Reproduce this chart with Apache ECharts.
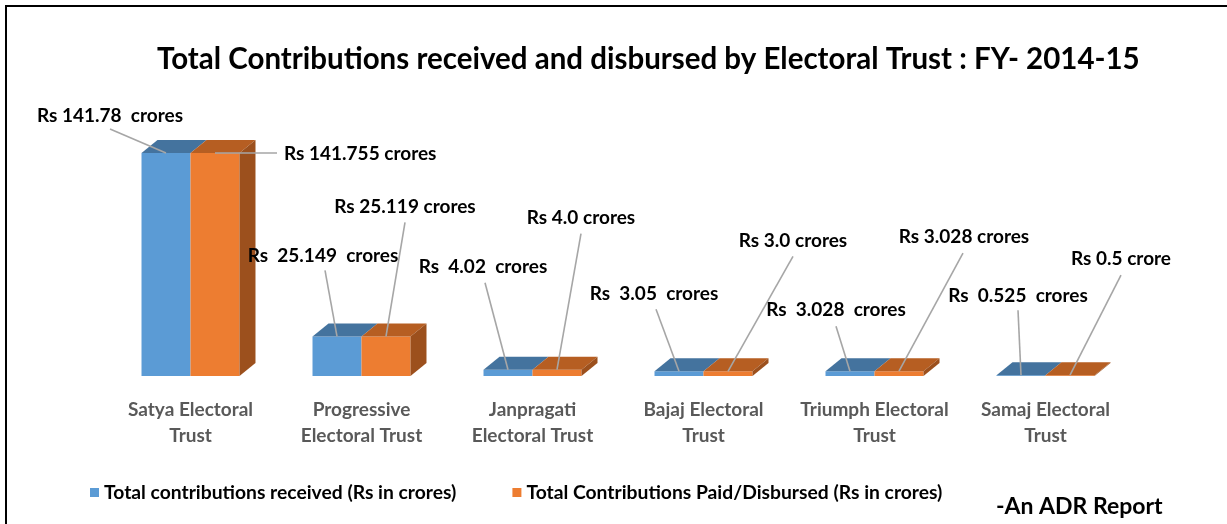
<!DOCTYPE html>
<html><head><meta charset="utf-8">
<script src="https://cdn.jsdelivr.net/npm/echarts@6/dist/echarts.min.js"></script>
<style>html,body{margin:0;padding:0;background:#fff}#c{width:1227px;height:524px}</style>
</head><body><div id="c"></div>
<script>
// ---- data ----
const categories = ['Satya Electoral\nTrust', 'Progressive\nElectoral Trust', 'Janpragati\nElectoral Trust', 'Bajaj Electoral\nTrust', 'Triumph Electoral\nTrust', 'Samaj Electoral\nTrust'];
const received = [141.78, 25.149, 4.02, 3.05, 3.028, 0.525];
const disbursed = [141.755, 25.119, 4.0, 3.0, 3.028, 0.5];
const receivedLabels = ['Rs 141.78  crores', 'Rs  25.149  crores', 'Rs  4.02  crores', 'Rs  3.05  crores', 'Rs  3.028  crores', 'Rs  0.525  crores'];
const disbursedLabels = ['Rs 141.755 crores', 'Rs 25.119 crores', 'Rs 4.0 crores', 'Rs 3.0 crores', 'Rs 3.028 crores', 'Rs 0.5 crore'];
const seriesNames = ['Total contributions received (Rs in crores)', 'Total Contributions Paid/Disbursed (Rs in crores)'];
const titleText = 'Total Contributions received and disbursed by Electoral Trust : FY- 2014-15';
const footnote = '-An ADR Report';

// ---- layout of value labels (pixel offsets from the bar's top-centre point) ----
const receivedLabelLayout = [
  {lx: -56, ly: -37, sx: -56, sy: -24, align: 'center'},
  {lx: -14, ly: -81, sx: -12, sy: -66, align: 'center'},
  {lx: -25, ly: -103, sx: -23, sy: -87, align: 'center'},
  {lx: -25, ly: -77, sx: -23, sy: -62, align: 'center'},
  {lx: -14, ly: -61, sx: -14, sy: -45, align: 'center'},
  {lx: -3, ly: -79, sx: -3, sy: -65, align: 'center'}
];
const disbursedLabelLayout = [
  {lx: 69, ly: 1, sx: 62, sy: 0, align: 'left'},
  {lx: 19, ly: -130, sx: 19, sy: -114, align: 'center'},
  {lx: 24, ly: -152, sx: 24, sy: -136, align: 'center'},
  {lx: 65, ly: -130, sx: 65, sy: -115, align: 'center'},
  {lx: 65, ly: -134, sx: 64, sy: -118, align: 'center'},
  {lx: 51, ly: -116, sx: 51, sy: -100, align: 'center'}
];

const FONT = 'Lato';
const blueCols = {front: '#5B9BD5', top: '#44739E', side: null};
const orangeCols = {front: '#ED7D31', top: '#B65E22', side: '#9C501D'};

function makeRender(s, cols, labels, layout) {
  return function (params, api) {
    const i = api.value(0);
    const v = api.value(1);
    const base = api.coord([i, 0]);
    const top = api.coord([i, v]);
    const band = api.size([1, 0])[0];
    const w = band * 0.2865;
    const x0 = s === 0 ? base[0] - w : base[0];
    const x1 = x0 + w;
    const yT = top[1], yB = base[1];
    const dx = 16, dy = 13;
    const children = [
      {type: 'rect', shape: {x: x0, y: yT, width: w, height: Math.max(yB - yT, 0.5)}, style: {fill: cols.front}},
      {type: 'polygon', shape: {points: [[x0, yT], [x1, yT], [x1 + dx, yT - dy], [x0 + dx, yT - dy]]}, style: {fill: cols.top}}
    ];
    if (cols.side) {
      children.push({type: 'polygon', shape: {points: [[x1, yT], [x1 + dx, yT - dy], [x1 + dx, yB - dy], [x1, yB]]}, style: {fill: cols.side}});
    }
    const cx = (x0 + x1) / 2;
    const L = layout[i];
    children.push({type: 'line', z2: 50, shape: {x1: cx + L.sx, y1: yT + L.sy, x2: cx, y2: yT}, style: {stroke: '#A6A6A6', lineWidth: 1.6}});
    children.push({type: 'text', z2: 60, x: cx + L.lx, y: yT + L.ly, style: {text: labels[i], fill: '#000', fontFamily: FONT, fontWeight: 'bold', fontSize: 19, align: L.align, verticalAlign: 'middle'}});
    return {type: 'group', children: children};
  };
}

const chart = echarts.init(document.getElementById('c'), null, {renderer: 'canvas'});
chart.setOption({
  animation: false,
  backgroundColor: '#fff',
  title: {
    text: titleText, left: 152, top: 39,
    textStyle: {fontFamily: FONT, fontWeight: 'bold', fontSize: 29.5, color: '#000'}
  },
  legend: {
    data: seriesNames, left: 85, top: 478, icon: 'rect', itemWidth: 9, itemHeight: 9, itemGap: 56,
    textStyle: {fontFamily: FONT, fontWeight: 'bold', fontSize: 19.3, color: '#000'}
  },
  grid: {left: 105, right: 96, top: 140, bottom: 148},
  xAxis: {
    type: 'category', data: categories,
    axisLine: {show: false}, axisTick: {show: false},
    axisLabel: {interval: 0, margin: 21, lineHeight: 26, fontFamily: FONT, fontWeight: 'bold', fontSize: 19, color: '#595959'}
  },
  yAxis: {type: 'value', min: 0, max: 150, show: false},
  series: [
    {name: seriesNames[0], type: 'custom', itemStyle: {color: '#5B9BD5'}, encode: {x: 0, y: 1},
      data: received.map((v, i) => [i, v]), renderItem: makeRender(0, blueCols, receivedLabels, receivedLabelLayout)},
    {name: seriesNames[1], type: 'custom', itemStyle: {color: '#ED7D31'}, encode: {x: 0, y: 1},
      data: disbursed.map((v, i) => [i, v]), renderItem: makeRender(1, orangeCols, disbursedLabels, disbursedLabelLayout)}
  ],
  graphic: [
    {type: 'rect', left: 5, top: 5, shape: {width: 1222, height: 2}, style: {fill: '#000'}},
    {type: 'rect', left: 5, top: 5, shape: {width: 2, height: 519}, style: {fill: '#000'}},
    {type: 'text', left: 996, top: 495, style: {text: footnote, fontFamily: FONT, fontWeight: 'bold', fontSize: 23, fill: '#000'}}
  ]
});
</script></body></html>
